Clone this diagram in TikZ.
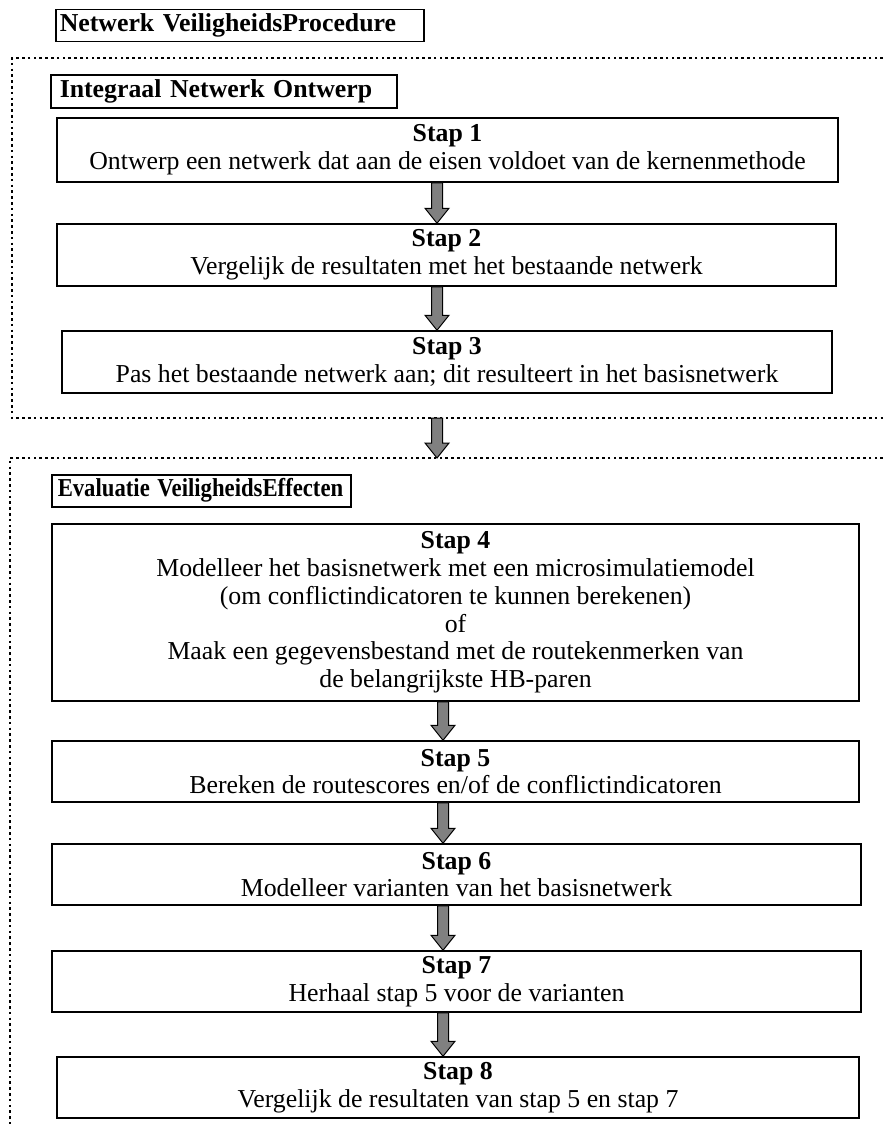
\documentclass[tikz,border=0pt]{standalone}
\usepackage{fontspec}
\setmainfont{Liberation Serif}
\usetikzlibrary{calc}
\tikzset{
  box/.style={draw=black, line width=1.5pt, inner sep=0pt, align=center,
    font=\fontsize{25.8}{27.8}\selectfont},
  hdr/.style={draw=black, line width=1.5pt, inner ysep=0pt,
    align=left, anchor=north west, font=\fontsize{25.8}{27.8}\selectfont\bfseries},
  dotline/.style={line width=2.6pt, dash pattern=on 2.6pt off 3.2pt},
  blockarr/.style={draw=black, line width=1pt, fill=black!50},
}
% \stepnode{name}{x1}{y1}{x2}{y2}{text}
\newcommand{\stepnode}[6]{%
  \pgfmathsetmacro{\cxx}{(#2+#4)/2}\pgfmathsetmacro{\cyy}{(#3+#5)/2+1}%
  \pgfmathsetmacro{\www}{#4-#2}\pgfmathsetmacro{\hhh}{#5-#3}%
  \node[box, minimum width=\www pt, minimum height=\hhh pt] (#1) at (\cxx,\cyy) {#6};}
% \blockarrow{from}{to}{x}
\newcommand{\blockarrow}[3]{%
  \path[blockarr] let \p1=(#1), \p2=(#2) in
    (#3-5.5,\y1) -- (#3+5.5,\y1) -- (#3+5.5,\y2+15) -- (#3+12,\y2+15) --
    (#3,\y2) -- (#3-12,\y2+15) -- (#3-5.5,\y2+15) -- cycle;}
\begin{document}
\begin{tikzpicture}[x=1pt,y=-1pt]
\useasboundingbox (0,0) rectangle (883,1124);
% headers
\node[hdr, inner xsep=4pt, minimum height=32pt, text width=360pt] (title) at (55,9) {Netwerk VeiligheidsProcedure};
\node[hdr, inner xsep=9pt, minimum height=33pt, text width=328pt] (ino) at (50,74) {Integraal Netwerk Ontwerp};
\node[hdr, inner xsep=6pt, minimum height=32pt, text width=287pt] (eve) at (51,474) {\scalebox{0.88}[1]{Evaluatie VeiligheidsEffecten}};
% dotted frames
\draw[dotline] (883,58) -- (12,58) -- (12,418) -- (883,418);
\draw[dotline] (883,458) -- (10,458) -- (10,1124);
\coordinate (d1) at (437,418);
\coordinate (d2) at (437,458);
% steps
\stepnode{s1}{57}{117}{838}{181}{\textbf{Stap 1}\\Ontwerp een netwerk dat aan de eisen voldoet van de kernenmethode}
\stepnode{s2}{57}{223}{836}{285}{\textbf{Stap 2}\\Vergelijk de resultaten met het bestaande netwerk}
\stepnode{s3}{62}{330}{832}{392}{\textbf{Stap 3}\\Pas het bestaande netwerk aan; dit resulteert in het basisnetwerk}
\stepnode{s4}{52}{523}{859}{700}{\textbf{Stap 4}\\Modelleer het basisnetwerk met een microsimulatiemodel\\(om conflictindicatoren te kunnen berekenen)\\of\\Maak een gegevensbestand met de routekenmerken van\\de belangrijkste HB-paren}
\stepnode{s5}{52}{740}{859}{801}{\textbf{Stap 5}\\Bereken de routescores en/of de conflictindicatoren}
\stepnode{s6}{52}{843}{861}{904}{\textbf{Stap 6}\\Modelleer varianten van het basisnetwerk}
\stepnode{s7}{52}{950}{861}{1011}{\textbf{Stap 7}\\Herhaal stap 5 voor de varianten}
\stepnode{s8}{57}{1056}{859}{1117}{\textbf{Stap 8}\\Vergelijk de resultaten van stap 5 en stap 7}
% arrows
\blockarrow{s1.south}{s2.north}{437}
\blockarrow{s2.south}{s3.north}{437}
\blockarrow{d1}{d2}{437}
\blockarrow{s4.south}{s5.north}{443}
\blockarrow{s5.south}{s6.north}{443}
\blockarrow{s6.south}{s7.north}{443}
\blockarrow{s7.south}{s8.north}{443}
\end{tikzpicture}
\end{document}
